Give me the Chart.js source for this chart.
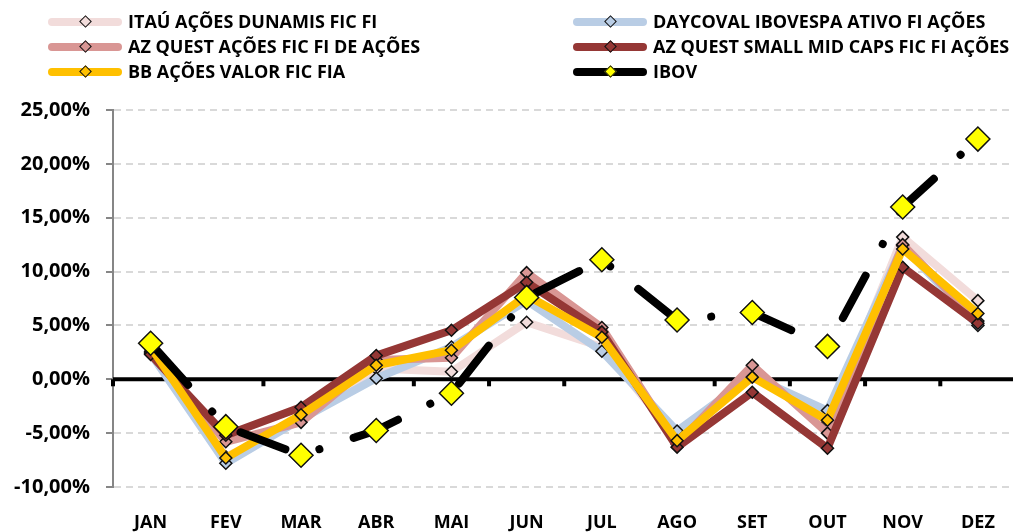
<!DOCTYPE html>
<html>
<head>
<meta charset="utf-8">
<script src="https://cdn.jsdelivr.net/npm/chart.js@4"></script>
<style>
  html, body { margin: 0; padding: 0; background: #fff; overflow: hidden; }
  #wrap { position: relative; width: 1029px; height: 532px; }
  #legend { position: absolute; left: 0; top: 0; font-family: "Open Sans", sans-serif; font-weight: bold; font-size: 18px; color: #000; }
  .item { position: absolute; height: 24px; }
  .item .ln { position: absolute; top: 8px; width: 74px; height: 8px; border-radius: 4px; }
  .item .mk { position: absolute; top: 7px; left: 33px; width: 7px; height: 7px; border: 1.5px solid #111; transform: rotate(45deg); }
  .item .tx { position: absolute; left: 80px; top: -1px; white-space: nowrap; line-height: 24px; }
</style>
</head>
<body>
<div id="wrap">
  <canvas id="chart" width="1029" height="532"></canvas>
  <div id="legend"></div>
</div>
<script>
// --- DADOS ---
const months = ['JAN', 'FEV', 'MAR', 'ABR', 'MAI', 'JUN', 'JUL', 'AGO', 'SET', 'OUT', 'NOV', 'DEZ'];

const itau     = [2.6, -7.2, -3.8, 1.0, 0.7, 5.3, 3.0, -5.5, 0.6, -4.0, 13.2, 7.3];
const daycoval = [2.4, -7.8, -3.7, 0.1, 3.0, 7.3, 2.6, -4.8, 0.3, -2.9, 12.4, 5.0];
const azAcoes  = [2.5, -5.8, -4.0, 1.8, 2.0, 9.9, 4.8, -6.0, 1.3, -5.0, 12.5, 5.4];
const azSmall  = [2.3, -5.2, -2.6, 2.2, 4.55, 9.0, 4.4, -6.3, -1.2, -6.4, 10.4, 5.2];
const bbValor  = [3.0, -7.3, -3.3, 1.3, 2.7, 7.8, 3.9, -5.7, 0.2, -3.8, 12.1, 6.1];
const ibov     = [3.35, -4.4, -7.05, -4.75, -1.3, 7.6, 11.1, 5.5, 6.2, 3.05, 16.0, 22.3];

const yTicks = [-10, -5, 0, 5, 10, 15, 20, 25];

// --- SERIES ---
const series = [
    { label: 'ITAÚ AÇÕES DUNAMIS FIC FI', data: itau, color: '#F2DCDB', order: 5 },
    { label: 'DAYCOVAL IBOVESPA ATIVO FI AÇÕES', data: daycoval, color: '#B9CDE5', order: 4 },
    { label: 'AZ QUEST AÇÕES FIC FI DE AÇÕES', data: azAcoes, color: '#D99694', order: 3 },
    { label: 'AZ QUEST SMALL MID CAPS FIC FI AÇÕES', data: azSmall, color: '#953735', order: 2 },
    { label: 'BB AÇÕES VALOR FIC FIA', data: bbValor, color: '#FFC000', order: 1 },
    { label: 'IBOV', data: ibov, color: '#000000', order: 0, marker: '#FFFF00' }
];

const fmtPct = (v) => v.toFixed(2).replace('.', ',') + '%';

// legenda em HTML (duas colunas)
const legendEl = document.getElementById('legend');
const legendPos = [[48, 10], [573, 10], [48, 35], [573, 35], [48, 60], [573, 60]];
series.forEach((s, i) => {
    const it = document.createElement('div');
    it.className = 'item';
    it.style.left = legendPos[i][0] + 'px';
    it.style.top = legendPos[i][1] + 'px';
    it.innerHTML = '<div class="ln" style="background:' + s.color + '"></div>' +
        '<div class="mk" style="background:' + (s.marker || s.color) + '"></div>' +
        '<div class="tx">' + s.label + '</div>';
    legendEl.appendChild(it);
});

// linha do zero com marcas entre categorias
const zeroAxis = {
    id: 'zeroAxis',
    beforeDatasetsDraw(chart) {
        const { ctx, chartArea, scales } = chart;
        const y0 = scales.y.getPixelForValue(0);
        const step = (chartArea.right - chartArea.left) / months.length;
        ctx.save();
        ctx.strokeStyle = '#000';
        ctx.lineWidth = 4;
        ctx.beginPath();
        ctx.moveTo(chartArea.left, y0);
        ctx.lineTo(chartArea.right, y0);
        ctx.stroke();
        for (let i = 0; i <= months.length; i++) {
            const x = chartArea.left + i * step;
            ctx.beginPath();
            ctx.moveTo(x, y0);
            ctx.lineTo(x, y0 + 7);
            ctx.stroke();
        }
        ctx.restore();
    }
};

const datasets = series.map(s => {
    const isIbov = s.label === 'IBOV';
    return {
        label: s.label,
        data: s.data,
        order: s.order,
        borderColor: s.color,
        backgroundColor: s.color,
        borderWidth: 8,
        borderCapStyle: 'round',
        borderJoinStyle: 'round',
        // traço longo-ponto do IBOV
        borderDash: isIbov ? [48, 36, 0.1, 36] : [],
        borderDashOffset: isIbov ? -8 : 0,
        tension: 0,
        pointStyle: 'rectRot',
        pointRadius: isIbov ? 12 : 6,
        pointBackgroundColor: s.marker || s.color,
        pointBorderColor: '#111',
        pointBorderWidth: 1.5,
        fill: false
    };
});

const xFont = { family: '"Open Sans", sans-serif', size: 18, weight: 'bold' };
const yFont = { family: '"Open Sans", sans-serif', size: 20, weight: 'bold' };

new Chart(document.getElementById('chart'), {
    type: 'line',
    data: { labels: months, datasets: datasets },
    options: {
        responsive: false,
        animation: false,
        layout: { padding: { top: 110, right: 0, left: 0, bottom: 0 } },
        plugins: { legend: { display: false }, tooltip: { enabled: false } },
        scales: {
            x: {
                offset: true,
                grid: { display: false, drawTicks: false },
                border: { display: false },
                ticks: { color: '#000', font: xFont, padding: 25, maxRotation: 0 },
                afterFit: (scale) => { scale.height = 45; }
            },
            y: {
                min: -10,
                max: 25,
                afterBuildTicks: (scale) => { scale.ticks = yTicks.map(v => ({ value: v })); },
                grid: {
                    color: '#D9D9D9',
                    lineWidth: 2,
                    tickLength: 7,
                    tickColor: '#868686',
                    tickWidth: 2,
                    tickBorderDash: []
                },
                border: { display: true, color: '#868686', width: 2, dash: [7, 5] },
                ticks: { color: '#000', font: yFont, padding: 16, callback: (v) => fmtPct(v) },
                afterFit: (scale) => { scale.width = 113; }
            }
        }
    },
    plugins: [zeroAxis]
});
</script>
</body>
</html>
